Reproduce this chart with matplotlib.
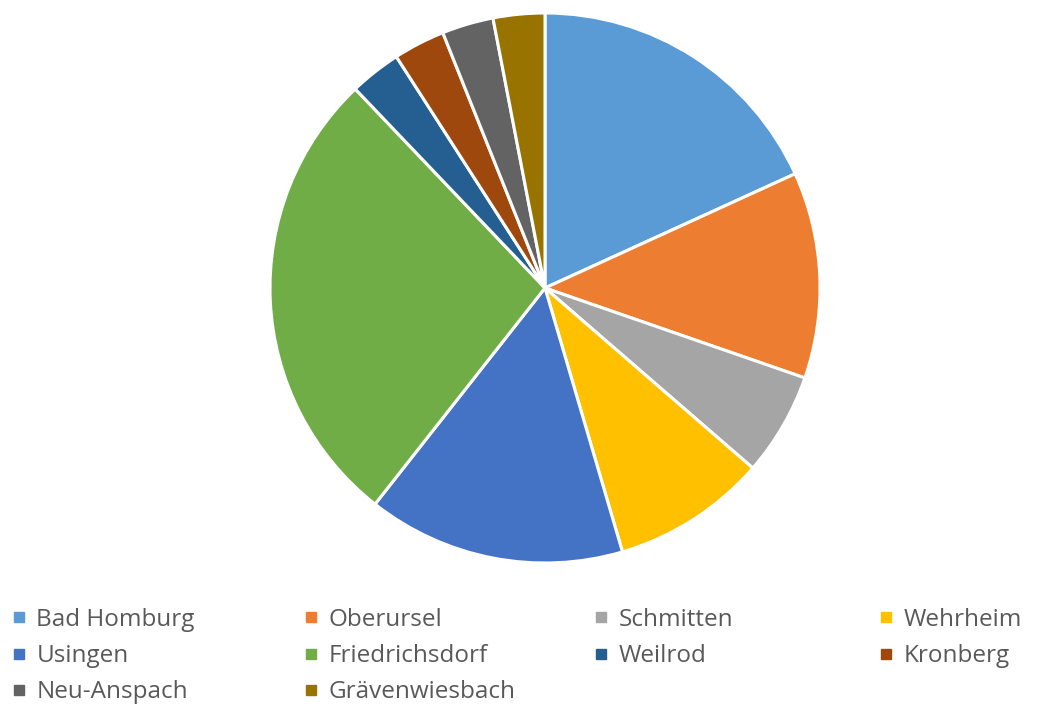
import matplotlib
matplotlib.use("Agg")
import matplotlib.pyplot as plt
from matplotlib.lines import Line2D

labels = ["Bad Homburg", "Oberursel", "Schmitten", "Wehrheim", "Usingen",
          "Friedrichsdorf", "Weilrod", "Kronberg", "Neu-Anspach", "Grävenwiesbach"]
values = [6, 4, 2, 3, 5, 9, 1, 1, 1, 1]
colors = ["#5B9BD5", "#ED7D31", "#A5A5A5", "#FFC000", "#4472C4",
          "#70AD47", "#255E91", "#9E480E", "#636363", "#997300"]

W, H = 1049, 706
fig = plt.figure(figsize=(W / 100, H / 100), dpi=100)
cx, cy, r = 545, 288, 275
ax = fig.add_axes([(cx - r) / W, (H - cy - r) / H, 2 * r / W, 2 * r / H])
ax.pie(values, colors=colors, startangle=90, counterclock=False,
       wedgeprops=dict(edgecolor="white", linewidth=2.2), radius=1)
ax.set_xlim(-1, 1)
ax.set_ylim(-1, 1)
ax.set_aspect("equal")
ax.axis("off")

# legend: 4 columns, entries in row-major order
col_x = [12, 304, 594, 879]
ncol = 4
for c in range(ncol):
    idx = list(range(c, len(labels), ncol))
    handles = [Line2D([0], [0], marker="s", linestyle="none", markersize=7,
                      markerfacecolor=colors[i], markeredgecolor=colors[i]) for i in idx]
    leg = fig.legend(handles, [labels[i] for i in idx], loc="upper left",
                     bbox_to_anchor=(col_x[c] / W, (H - 608) / H),
                     frameon=False, handlelength=0.55,
                     handletextpad=0.45, labelspacing=0.5, borderpad=0,
                     borderaxespad=0, prop={"family": "Open Sans", "size": 17.5})
    for t in leg.get_texts():
        t.set_color("#595959")

fig.savefig("out.png", dpi=100, facecolor="white")
